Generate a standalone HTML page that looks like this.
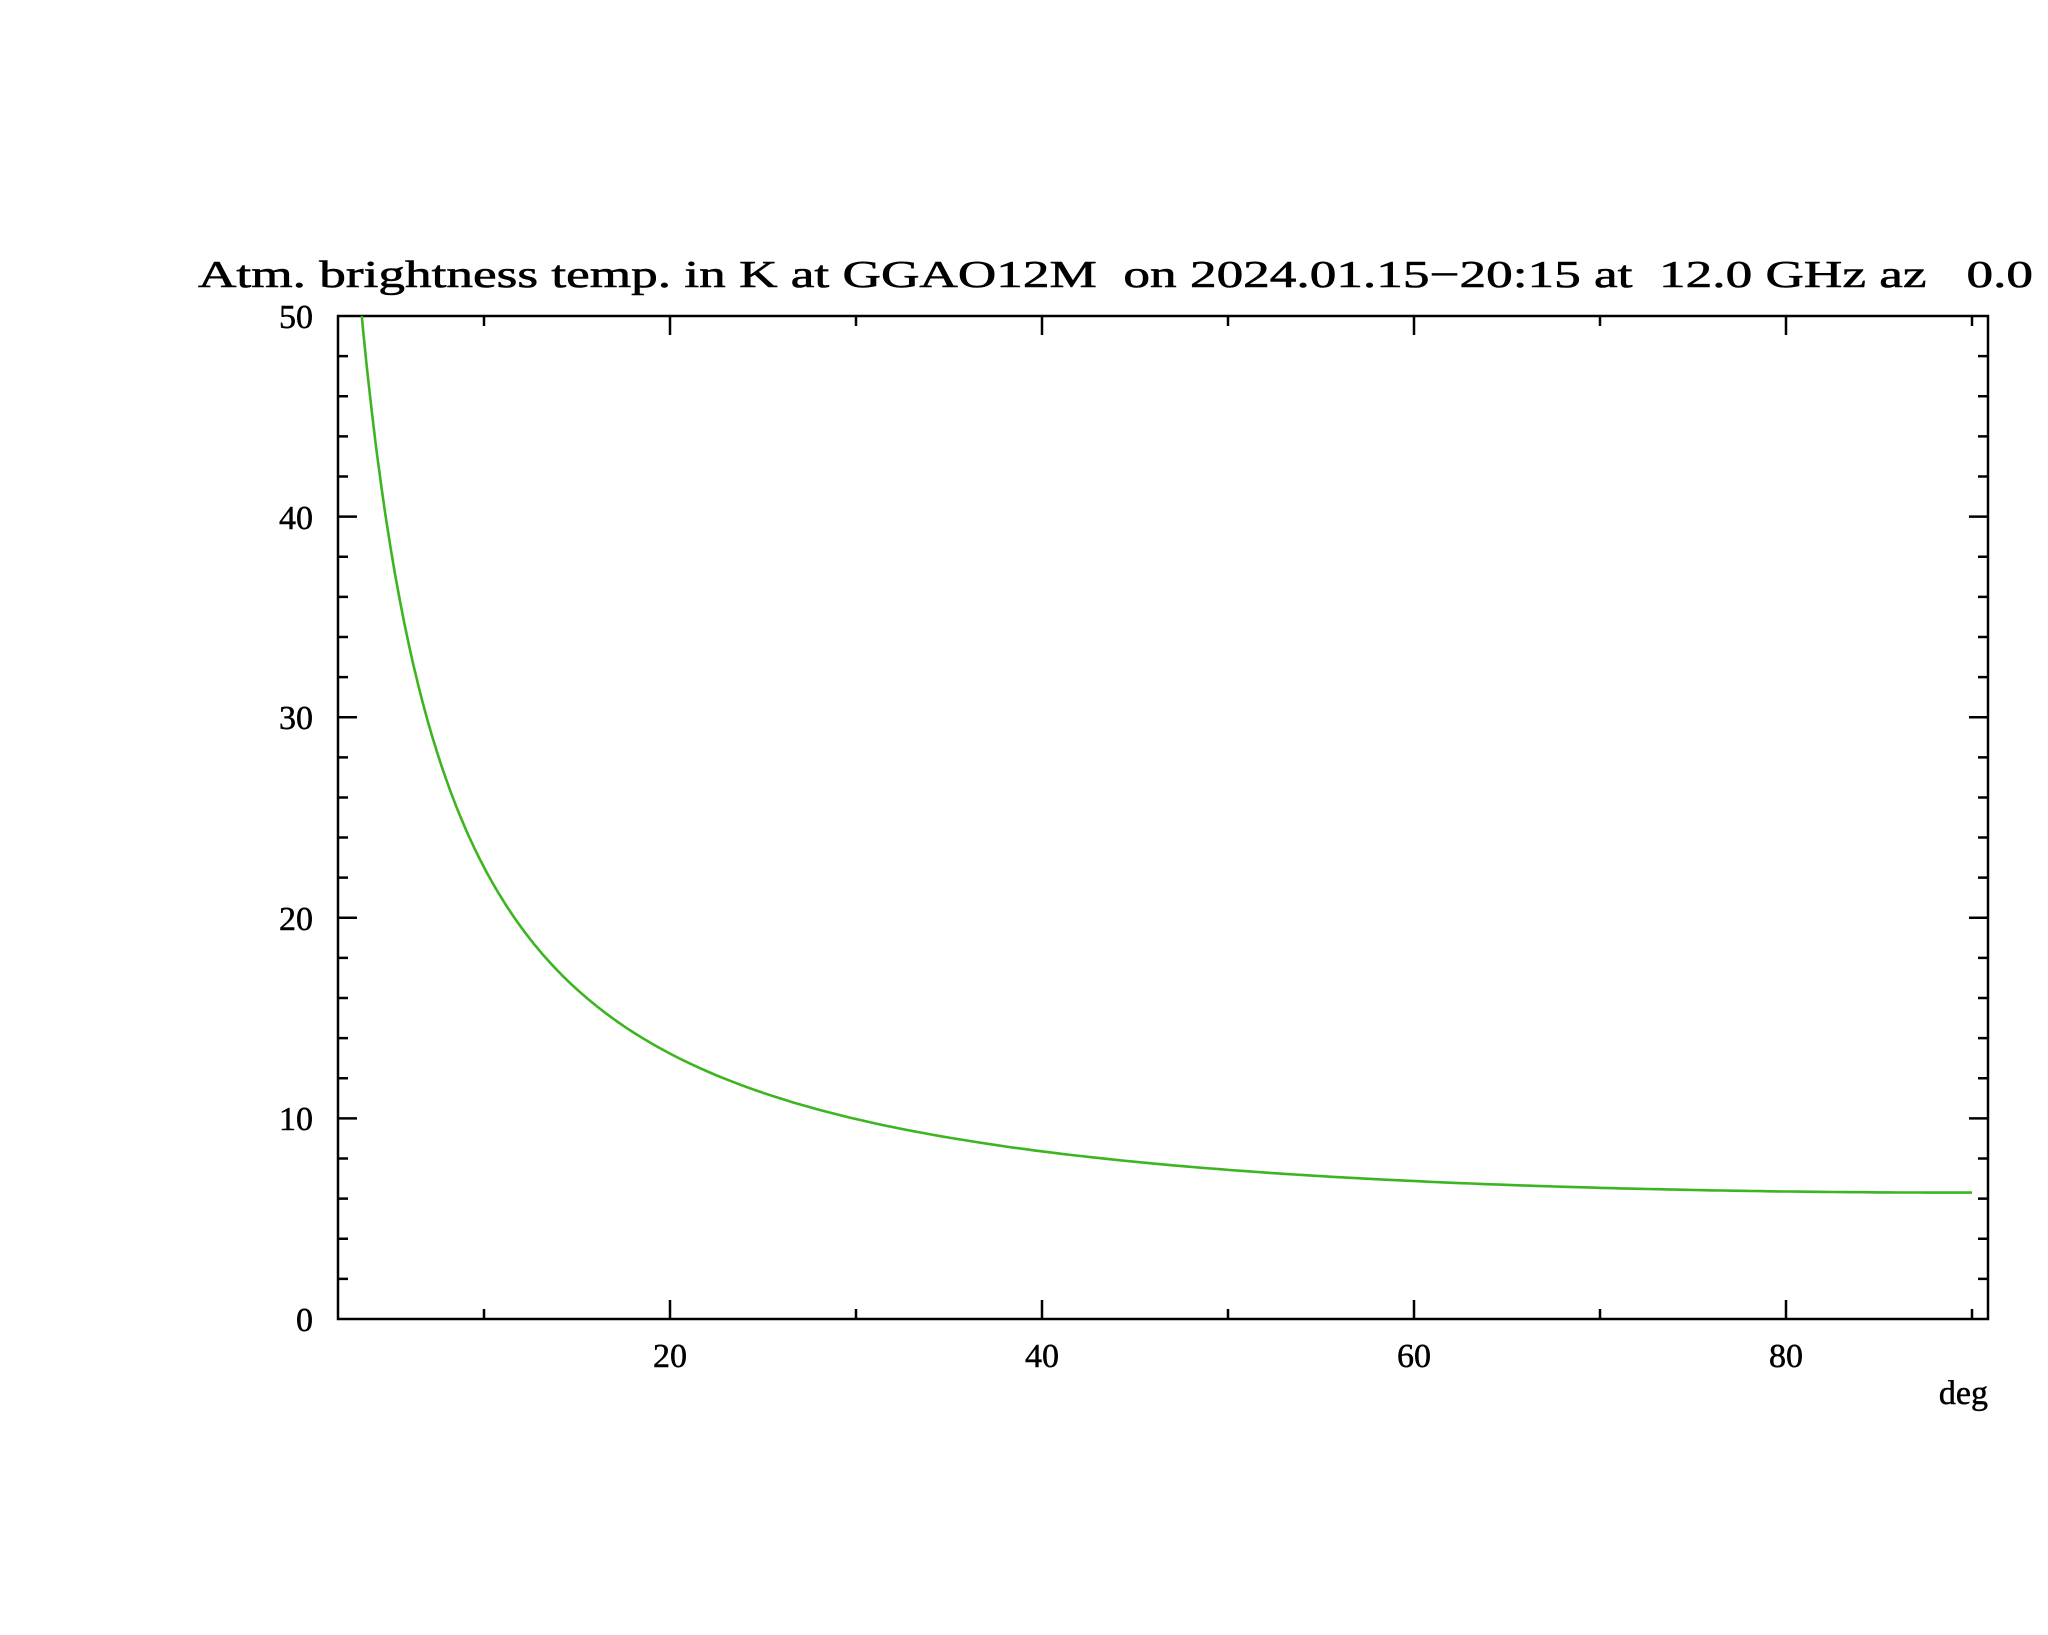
<!DOCTYPE html>
<html><head><meta charset="utf-8"><style>html,body{margin:0;padding:0;background:#fff}svg{display:block}</style></head>
<body>
<svg id="s" width="2048" height="1635" xmlns="http://www.w3.org/2000/svg" font-family="'Liberation Serif',serif" fill="#000">
<text x="198" y="287" font-size="38" textLength="1835" lengthAdjust="spacingAndGlyphs" xml:space="preserve" stroke="#000" stroke-width="0.6">Atm. brightness temp. in K at GGAO12M  on 2024.01.15−20:15 at  12.0 GHz az   0.0</text>
<rect x="338" y="316" width="1650" height="1003" fill="none" stroke="#000" stroke-width="2.5"/>
<g id="ticks" stroke="#000" stroke-width="2.5"></g>
<g font-size="34" text-anchor="end" stroke="#000" stroke-width="0.5">
<text x="313" y="328">50</text><text x="313" y="529">40</text><text x="313" y="729">30</text><text x="313" y="930">20</text><text x="313" y="1130">10</text><text x="313" y="1331">0</text>
</g>
<g font-size="34" text-anchor="middle" stroke="#000" stroke-width="0.5">
<text x="670" y="1367">20</text><text x="1042" y="1367">40</text><text x="1414" y="1367">60</text><text x="1786" y="1367">80</text>
</g>
<text x="1988" y="1404" font-size="34" text-anchor="end" stroke="#000" stroke-width="0.5">deg</text>
<polyline id="curve" fill="none" stroke="#3cb521" stroke-width="2.6" stroke-linejoin="round" points=""/>
</svg>
<script>
var g=document.getElementById('ticks'),d='';
function X(v){return 298+18.6*v}function Y(v){return 1319-20.06*v}
for(var v=10;v<=90;v+=10){var x=X(v),L=(v%20==0)?19:10;d+='M'+x+' 1319v-'+L+'M'+x+' 316v'+L;}
for(var v=2;v<50;v+=2){var y=Y(v),L=(v%10==0)?19:10;d+='M338 '+y+'h'+L+'M1988 '+y+'h-'+L;}
var p=document.createElementNS('http://www.w3.org/2000/svg','path');p.setAttribute('d',d);g.appendChild(p);
function T(e){var m=1/Math.sin(e*Math.PI/180);return 2.48+97.4*(1-Math.exp(-0.04*m));}
var pts=[];
// find start where T=50
var e0=3.0;while(T(e0)>50)e0+=0.005;
pts.push(X(e0).toFixed(1)+','+Y(50).toFixed(1));
for(var e=e0+0.05;e<=90.001;e+=(e<15?0.1:0.5)){pts.push(X(e).toFixed(1)+','+Y(T(e)).toFixed(1));}
pts.push(X(90).toFixed(1)+','+Y(T(90)).toFixed(1));
document.getElementById('curve').setAttribute('points',pts.join(' '));
</script>
</body></html>
